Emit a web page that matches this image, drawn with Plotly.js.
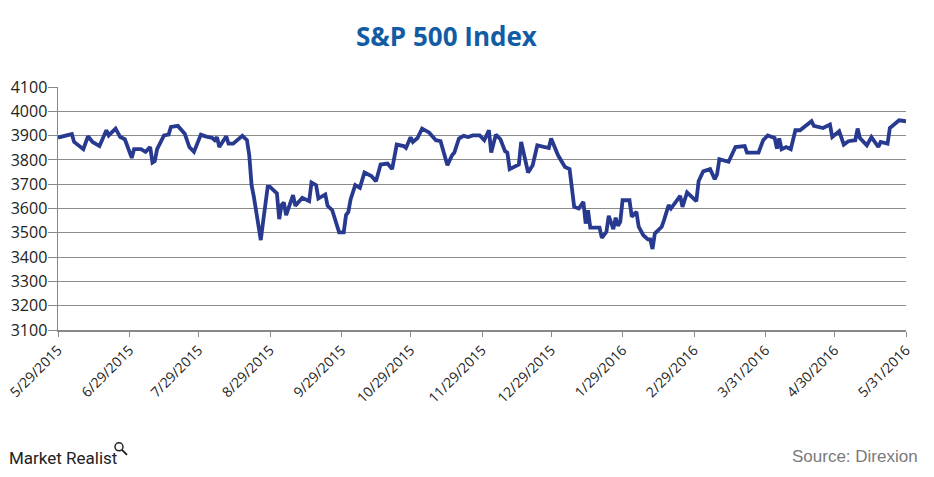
<!DOCTYPE html>
<html>
<head>
<meta charset="utf-8">
<script src="https://cdn.plot.ly/plotly-3.0.1.min.js"></script>
<style>html,body{margin:0;padding:0;background:#fff;}#chart{width:934px;height:477px;}</style>
</head>
<body>
<div id="chart"></div>
<script>
const dates = [
"2015-05-29","2015-06-02","2015-06-04","2015-06-05","2015-06-09","2015-06-11","2015-06-13","2015-06-16","2015-06-17","2015-06-19",
"2015-06-20","2015-06-23","2015-06-25","2015-06-27","2015-06-30","2015-07-01","2015-07-04","2015-07-06","2015-07-08","2015-07-09",
"2015-07-10","2015-07-11","2015-07-14","2015-07-16","2015-07-17","2015-07-20","2015-07-23","2015-07-25","2015-07-27","2015-07-30",
"2015-08-01","2015-08-04","2015-08-05","2015-08-06","2015-08-07","2015-08-10","2015-08-11","2015-08-13","2015-08-17","2015-08-19",
"2015-08-20","2015-08-21","2015-08-22","2015-08-25","2015-08-26","2015-08-28","2015-08-29","2015-09-01","2015-09-02","2015-09-03",
"2015-09-04","2015-09-05","2015-09-08","2015-09-09","2015-09-12","2015-09-15","2015-09-16","2015-09-18","2015-09-19","2015-09-22",
"2015-09-23","2015-09-25","2015-09-28","2015-09-30","2015-10-01","2015-10-02","2015-10-03","2015-10-05","2015-10-07","2015-10-09",
"2015-10-12","2015-10-14","2015-10-16","2015-10-19","2015-10-21","2015-10-23","2015-10-26","2015-10-27","2015-10-29","2015-10-30",
"2015-11-01","2015-11-03","2015-11-06","2015-11-07","2015-11-09","2015-11-11","2015-11-14","2015-11-16","2015-11-17","2015-11-19",
"2015-11-21","2015-11-23","2015-11-25","2015-11-28","2015-11-30","2015-12-02","2015-12-03","2015-12-05","2015-12-07","2015-12-09",
"2015-12-10","2015-12-11","2015-12-15","2015-12-16","2015-12-19","2015-12-21","2015-12-23","2015-12-28","2015-12-29","2016-01-01",
"2016-01-04","2016-01-06","2016-01-08","2016-01-10","2016-01-12","2016-01-13","2016-01-14","2016-01-15","2016-01-19","2016-01-20",
"2016-01-22","2016-01-23","2016-01-25","2016-01-26","2016-01-27","2016-01-28","2016-01-29","2016-02-01","2016-02-02","2016-02-04",
"2016-02-05","2016-02-07","2016-02-09","2016-02-10","2016-02-11","2016-02-12","2016-02-15","2016-02-16","2016-02-18","2016-02-19",
"2016-02-23","2016-02-24","2016-02-26","2016-03-01","2016-03-02","2016-03-04","2016-03-07","2016-03-09","2016-03-10","2016-03-11",
"2016-03-15","2016-03-18","2016-03-22","2016-03-23","2016-03-28","2016-03-30","2016-04-01","2016-04-04","2016-04-05","2016-04-06",
"2016-04-07","2016-04-09","2016-04-11","2016-04-13","2016-04-15","2016-04-20","2016-04-21","2016-04-25","2016-04-28","2016-04-29",
"2016-05-02","2016-05-04","2016-05-06","2016-05-09","2016-05-10","2016-05-11","2016-05-14","2016-05-16","2016-05-18","2016-05-19",
"2016-05-20","2016-05-23","2016-05-24","2016-05-26","2016-05-28","2016-05-31"
];
const values = [
3892,3899,3906,3874,3844,3897,3874,3857,3881,3922,
3901,3929,3894,3885,3808,3844,3844,3833,3853,3789,
3795,3844,3901,3904,3936,3940,3908,3853,3833,3904,
3897,3890,3881,3894,3853,3897,3867,3867,3899,3881,
3819,3696,3648,3470,3545,3689,3689,3662,3556,3614,
3625,3573,3655,3611,3644,3630,3707,3696,3641,3658,
3611,3593,3502,3502,3573,3586,3638,3696,3685,3748,
3734,3712,3781,3785,3762,3863,3857,3849,3893,3874,
3890,3929,3913,3904,3881,3877,3778,3819,3830,3888,
3899,3894,3901,3901,3881,3922,3830,3904,3885,3836,
3830,3762,3781,3874,3748,3778,3860,3849,3888,3819,
3771,3762,3607,3600,3627,3538,3593,3521,3521,3479,
3504,3570,3515,3562,3529,3545,3634,3634,3566,3586,
3525,3490,3473,3473,3433,3497,3525,3552,3614,3600,
3652,3607,3666,3630,3712,3753,3762,3721,3740,3803,
3792,3853,3857,3830,3830,3881,3901,3890,3847,3888,
3844,3853,3844,3922,3922,3959,3940,3931,3945,3894,
3918,3863,3877,3881,3929,3890,3860,3894,3863,3853,
3874,3867,3931,3945,3963,3959
];
const tickDates = ["2015-05-29","2015-06-29","2015-07-29","2015-08-29","2015-09-29","2015-10-29","2015-11-29","2015-12-29","2016-01-29","2016-02-29","2016-03-31","2016-04-30","2016-05-31"];
const tickLabels = ["5/29/2015","6/29/2015","7/29/2015","8/29/2015","9/29/2015","10/29/2015","11/29/2015","12/29/2015","1/29/2016","2/29/2016","3/31/2016","4/30/2016","5/31/2016"];

const trace = {
  x: dates, y: values, type: 'scatter', mode: 'lines',
  line: {color: '#283a8f', width: 3.8}, hoverinfo: 'x+y'
};

const layout = {
  width: 934, height: 477,
  margin: {l: 58, r: 28, t: 87, b: 147},
  paper_bgcolor: '#fff', plot_bgcolor: '#fff',
  showlegend: false,
  title: {text: '<b>S&P 500 Index</b>', x: 0.478, xanchor: 'center', y: 0.922, yanchor: 'middle', yref: 'container',
          font: {family: 'Open Sans, sans-serif', size: 26, color: '#125ca3'}},
  xaxis: {
    type: 'date', range: ['2015-05-29', '2016-05-31'],
    tickmode: 'array', tickvals: tickDates, ticktext: tickLabels, tickangle: -45,
    ticks: 'outside', ticklen: 5, tickcolor: '#888', tickwidth: 1,
    showline: true, linecolor: '#888', linewidth: 1.5,
    showgrid: false, zeroline: false,
    tickfont: {family: 'Open Sans, sans-serif', size: 14, color: '#222'}
  },
  yaxis: {
    range: [3100, 4100], dtick: 100, tick0: 3100,
    ticks: 'outside', ticklen: 9, tickcolor: '#888', tickwidth: 1, ticklabelstandoff: -3,
    showline: true, linecolor: '#888', linewidth: 1.5,
    showgrid: true, gridcolor: '#8c8c8c', gridwidth: 1, zeroline: false,
    tickfont: {family: 'Open Sans, sans-serif', size: 16, color: '#222'}
  },
  annotations: [
    {text: 'Market Realist', xref: 'paper', yref: 'paper', x: -51/848, y: -(458-330)/243.3, xanchor: 'left', yanchor: 'middle',
     showarrow: false, font: {family: 'Roboto, sans-serif', size: 17, color: '#222'}},
    {text: 'Source: Direxion', xref: 'paper', yref: 'paper', x: (920-58)/848, y: -(457-330)/243.3, xanchor: 'right', yanchor: 'middle',
     showarrow: false, font: {family: 'Liberation Sans, Arial, sans-serif', size: 17, color: '#7a7a7a'}}
  ],
  shapes: [
    {type: 'circle', xref: 'paper', yref: 'paper', x0: (115-58)/848, x1: (123-58)/848, y0: -(451-330)/243.3, y1: -(443-330)/243.3,
     line: {color: '#222', width: 1.5}},
    {type: 'line', xref: 'paper', yref: 'paper', x0: (122-58)/848, x1: (127-58)/848, y0: -(450-330)/243.3, y1: -(455-330)/243.3,
     line: {color: '#222', width: 2}}
  ]
};

Plotly.newPlot('chart', [trace], layout, {displayModeBar: false, staticPlot: true});
</script>
</body>
</html>
